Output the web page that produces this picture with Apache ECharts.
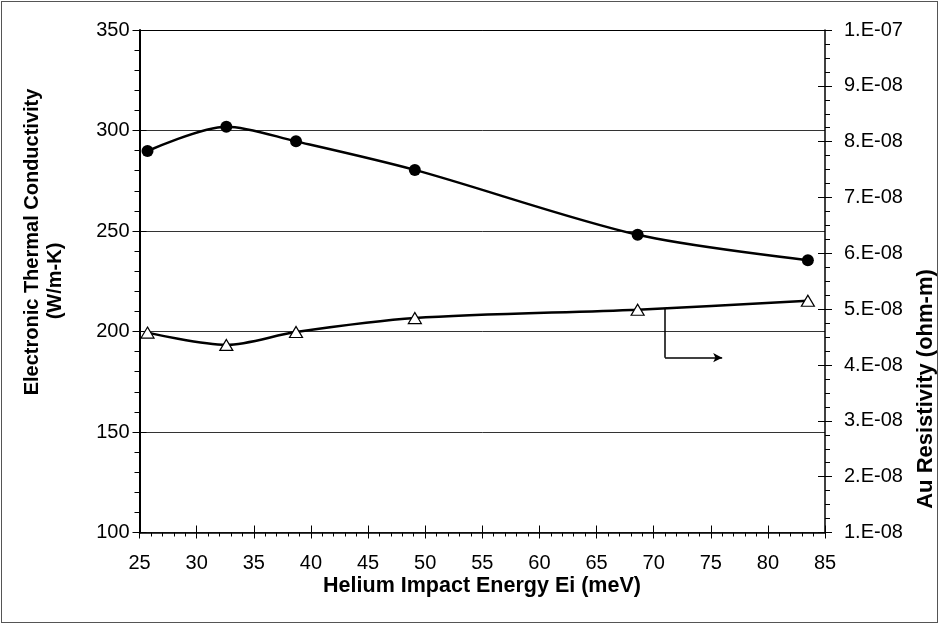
<!DOCTYPE html>
<html>
<head>
<meta charset="utf-8">
<script src="https://cdn.jsdelivr.net/npm/echarts@6/dist/echarts.min.js"></script>
<style>
html,body{margin:0;padding:0;background:#fff;}
#wrap{position:relative;width:940px;height:625px;}
#chart{position:absolute;left:0;top:0;width:940px;height:625px;}
#frame{position:absolute;left:1px;top:1px;width:935px;height:620px;border:1.5px solid #555;pointer-events:none;}
</style>
</head>
<body>
<div id="wrap"><div id="chart"></div><div id="frame"></div></div>
<script>
// ---- data ----
const energy = [25.7, 32.6, 38.7, 49.1, 68.6, 83.5];
const conductivity = [289.8, 301.9, 294.6, 280.4, 248.1, 235.5];
const resistivity = [4.58e-8, 4.36e-8, 4.59e-8, 4.84e-8, 4.99e-8, 5.15e-8];
const xTicks = [25, 30, 35, 40, 45, 50, 55, 60, 65, 70, 75, 80, 85];
const leftTicks = [100, 150, 200, 250, 300, 350];
const rightTickLabels = ['1.E-08','2.E-08','3.E-08','4.E-08','5.E-08','6.E-08','7.E-08','8.E-08','9.E-08','1.E-07'];
const arrowPath = [[71, 211.7], [71, 187], [76, 187]];
const xTitle = 'Helium Impact Energy Ei (meV)';
const leftTitle = ['Electronic Thermal Conductivity', '(W/m-K)'];
const rightTitle = 'Au Resistivity (ohm-m)';

const FONT = '"Liberation Sans", Arial, sans-serif';
const chart = echarts.init(document.getElementById('chart'));

const labelStyle = {color: '#000', fontSize: 20, fontFamily: FONT};
const gridBox = {left: 139.5, right: 115, top: 30, bottom: 92.5};

function rightFmt(v) {
  const idx = Math.round(v / 1e-8) - 1;
  return rightTickLabels[idx] !== undefined ? rightTickLabels[idx] : '';
}

chart.setOption({
  animation: false,
  backgroundColor: '#fff',
  grid: Object.assign({containLabel: false}, gridBox),
  xAxis: [
    {
      type: 'value', min: xTicks[0], max: xTicks[xTicks.length - 1], interval: 5, position: 'bottom',
      axisLine: {show: true, lineStyle: {color: '#000', width: 1.5}},
      axisTick: {show: true, inside: false, length: 6, lineStyle: {color: '#000', width: 1}},
      minorTick: {show: true, splitNumber: 5, length: 4, lineStyle: {color: '#000', width: 1}},
      axisLabel: Object.assign({margin: 21}, labelStyle),
      splitLine: {show: false}
    },
    {
      type: 'value', min: xTicks[0], max: xTicks[xTicks.length - 1], interval: 5, position: 'bottom',
      axisLine: {show: false},
      axisTick: {show: true, inside: true, length: 7, lineStyle: {color: '#000', width: 1}},
      axisLabel: {show: false}, splitLine: {show: false}
    },
    {
      type: 'value', min: xTicks[0], max: xTicks[xTicks.length - 1], position: 'top',
      axisLine: {show: true, lineStyle: {color: '#000', width: 1}},
      axisTick: {show: false}, axisLabel: {show: false}, splitLine: {show: false}
    }
  ],
  yAxis: [
    {
      type: 'value', min: leftTicks[0], max: leftTicks[leftTicks.length - 1], interval: 50, position: 'left',
      axisLine: {show: true, lineStyle: {color: '#000', width: 2}},
      axisTick: {show: true, inside: false, length: 7, lineStyle: {color: '#000', width: 1}},
      minorTick: {show: true, splitNumber: 5, length: 5, lineStyle: {color: '#000', width: 1}},
      axisLabel: Object.assign({margin: 10}, labelStyle),
      splitLine: {show: true, lineStyle: {color: '#333', width: 1}}
    },
    {
      type: 'value', min: 1e-8, max: 1e-7, interval: 1e-8, position: 'right',
      axisLine: {show: true, lineStyle: {color: '#000', width: 1.5}},
      axisTick: {show: true, inside: false, length: 7, lineStyle: {color: '#000', width: 1}},
      minorTick: {show: true, splitNumber: 4, length: 5, lineStyle: {color: '#000', width: 1}},
      axisLabel: Object.assign({margin: 19, formatter: rightFmt}, labelStyle),
      splitLine: {show: false}
    },
    {
      type: 'value', min: leftTicks[0], max: leftTicks[leftTicks.length - 1], interval: 50, position: 'left',
      axisLine: {show: false},
      axisTick: {show: true, inside: true, length: 7, lineStyle: {color: '#000', width: 1}},
      axisLabel: {show: false}, splitLine: {show: false}
    },
    {
      type: 'value', min: 1e-8, max: 1e-7, interval: 1e-8, position: 'right',
      axisLine: {show: false},
      axisTick: {show: true, inside: true, length: 7, lineStyle: {color: '#000', width: 1}},
      axisLabel: {show: false}, splitLine: {show: false}
    }
  ],
  series: [
    {
      type: 'line', xAxisIndex: 0, yAxisIndex: 0,
      data: energy.map((x, i) => [x, conductivity[i]]),
      smooth: 0.3,
      symbol: 'circle', symbolSize: 12,
      lineStyle: {color: '#000', width: 2.5},
      itemStyle: {color: '#000'},
      z: 3,
      markLine: {
        silent: true, animation: false,
        symbol: ['none', 'none'],
        label: {show: false},
        lineStyle: {color: '#000', width: 1.5, type: 'solid'},
        data: [
          [{coord: arrowPath[0]}, {coord: arrowPath[1]}],
          [{coord: arrowPath[1]}, {coord: arrowPath[2], symbol: 'arrow', symbolSize: [7, 9]}]
        ]
      }
    },
    {
      type: 'line', xAxisIndex: 0, yAxisIndex: 1,
      data: energy.map((x, i) => [x, resistivity[i]]),
      smooth: 0.3,
      symbol: 'triangle', symbolSize: [13, 11],
      lineStyle: {color: '#000', width: 2.5},
      itemStyle: {color: '#fff', borderColor: '#000', borderWidth: 1.2},
      z: 4
    }
  ],
  graphic: [
    {type: 'text', x: 32, y: 242, rotation: Math.PI / 2,
     style: {text: leftTitle[0], font: 'bold 20px ' + FONT, fill: '#000', align: 'center', verticalAlign: 'middle'}},
    {type: 'text', x: 55, y: 281, rotation: Math.PI / 2,
     style: {text: leftTitle[1], font: 'bold 20px ' + FONT, fill: '#000', align: 'center', verticalAlign: 'middle'}},
    {type: 'text', x: 926, y: 389, rotation: Math.PI / 2,
     style: {text: rightTitle, font: 'bold 22px ' + FONT, fill: '#000', align: 'center', verticalAlign: 'middle'}},
    {type: 'text', x: 482, y: 586,
     style: {text: xTitle, font: 'bold 21.5px ' + FONT, fill: '#000', align: 'center', verticalAlign: 'middle'}}
  ]
});
</script>
</body>
</html>
